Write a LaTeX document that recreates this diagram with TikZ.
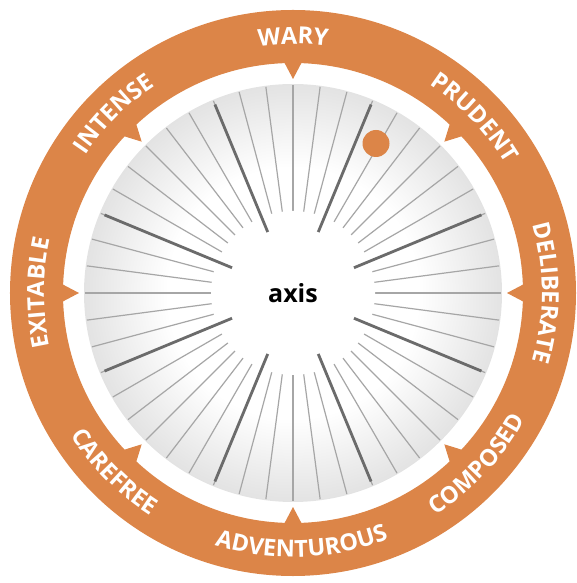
\documentclass[tikz,border=0pt]{standalone}
\usepackage{fontspec}
\setmainfont{Open Sans}
\usetikzlibrary{decorations.text,fadings}
\definecolor{ringorange}{RGB}{220,133,72}
\newfontfamily\labelfont{Open Sans}
% grey dial, white in the middle and darker towards the rim
\pgfdeclareradialshading{dialshade}{\pgfpoint{0bp}{0bp}}{color(0bp)=(white); color(15bp)=(white); color(24bp)=(black!10); color(36bp)=(black!22); color(46bp)=(black!33); color(50bp)=(black!45)}
\pgfdeclareradialshading{glowshade}{\pgfpoint{0bp}{0bp}}{color(0bp)=(white); color(38bp)=(white); color(50bp)=(black)}
\pgfdeclarefading{glow}{\pgfuseshading{glowshade}}

\begin{document}
\begin{tikzpicture}[x=1pt,y=1pt,
    toplabel/.style={decorate,decoration={text along path,text align=center,
      text={|\labelfont\bfseries\fontsize{23.5}{23.5}\selectfont\color{white}|#1}}},
    botlabel/.style={toplabel=#1},
    notch/.style={fill=ringorange},
    fineray/.style={black!35,line width=1.2pt},
    thickray/.style={black!58,line width=2.8pt}]
  \useasboundingbox (-293,-290) rectangle (284,293);
  % ring
  \draw[ringorange,line width=53pt] (0,0) circle (256.5);
  \foreach \a in {0,45,...,315}
    \fill[notch] (\a-2.2:231) -- (\a:214) -- (\a+2.2:231) -- cycle;
  % dial
  \shade[shading=dialshade] (0,0) circle (209);
  \foreach \a in {0,7.5,...,352.5}
    \draw[fineray] (\a:60) -- (\a:208);
  \fill[white,path fading=glow] (0,0) circle (82);
  \foreach \a in {22.5,67.5,...,337.5}
    \draw[thickray] (\a:66) -- (\a:204);
  \node[circle,fill=ringorange,minimum size=27pt,inner sep=0pt] (marker) at (83,149.5) {};
  \node[font=\fontsize{25}{25}\selectfont\bfseries] (hub) at (0,0) {axis};
  % labels, clockwise on top, anticlockwise below
  \path[toplabel=WARY] (130:249) arc[start angle=130,end angle=50,radius=249];
  \path[toplabel=PRUDENT] (84:249) arc[start angle=84,end angle=4,radius=249];
  \path[toplabel=DELIBERATE] (40:249) arc[start angle=40,end angle=-40,radius=249];
  \path[toplabel=INTENSE] (175:249) arc[start angle=175,end angle=95,radius=249];
  \path[toplabel=EXITABLE] (220:249) arc[start angle=220,end angle=140,radius=249];
  \path[botlabel=COMPOSED] (-83:264) arc[start angle=-83,end angle=-3,radius=264];
  \path[botlabel=ADVENTUROUS] (-128:264) arc[start angle=-128,end angle=-48,radius=264];
  \path[botlabel=CAREFREE] (-175:264) arc[start angle=-175,end angle=-95,radius=264];
\end{tikzpicture}
\end{document}
